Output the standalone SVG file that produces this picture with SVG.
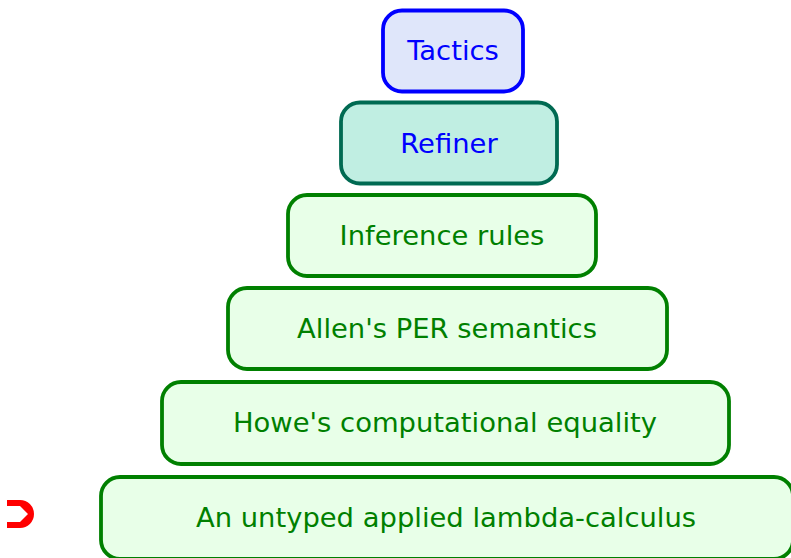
<svg xmlns="http://www.w3.org/2000/svg" width="791" height="558" viewBox="0 0 791 558">
  <style>
    .box { stroke-width: 3.8; }
    .lbl { font-family: "DejaVu Sans", sans-serif; font-size: 27.4px; text-anchor: middle; dominant-baseline: central; }
    .top { fill: #dfe6fa; stroke: #0000ff; }
    .mid { fill: #c0eee2; stroke: #006a52; }
    .base { fill: #e8ffe8; stroke: #008000; }
    .blue { fill: #0000ff; }
    .green { fill: #008000; }
  </style>
  <rect width="791" height="558" fill="#ffffff"/>
  <g id="tactics">
    <rect class="box top" x="383" y="10.5" width="140" height="81" rx="19"/>
    <text class="lbl blue" x="453" y="50">Tactics</text>
  </g>
  <g id="refiner">
    <rect class="box mid" x="341" y="102.5" width="216" height="81" rx="19"/>
    <text class="lbl blue" x="449" y="143">Refiner</text>
  </g>
  <g id="inference-rules">
    <rect class="box base" x="288" y="195" width="308" height="81" rx="19"/>
    <text class="lbl green" x="442" y="235">Inference rules</text>
  </g>
  <g id="per-semantics">
    <rect class="box base" x="228" y="288" width="439" height="81" rx="19"/>
    <text class="lbl green" x="447" y="328">Allen's PER semantics</text>
  </g>
  <g id="computational-equality">
    <rect class="box base" x="162" y="382" width="567" height="82" rx="19"/>
    <text class="lbl green" x="445" y="422">Howe's computational equality</text>
  </g>
  <g id="lambda-calculus">
    <rect class="box base" x="101" y="477" width="692" height="82" rx="19"/>
    <text class="lbl green" x="446" y="517">An untyped applied lambda-calculus</text>
  </g>
  <g id="nav-icon">
    <path d="M7 500 H20 A14 14 0 0 1 20 528 H7 V522 H20 L28 514 L20 506 H7 Z" fill="#ff0000"/>
  </g>
  <g id="connectors"></g>
</svg>
